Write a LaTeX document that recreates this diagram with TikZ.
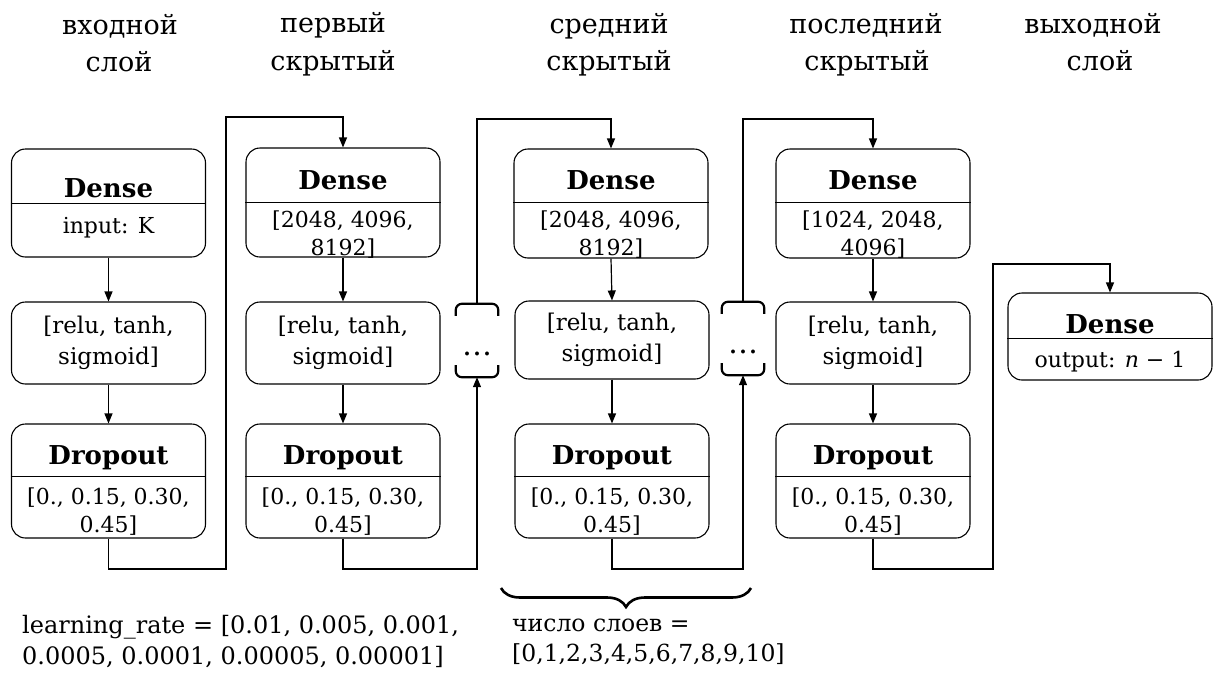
\documentclass[tikz,border=0pt]{standalone}
\usepackage{fontspec}
\setmainfont{DejaVu Serif}
\usetikzlibrary{arrows.meta,decorations.pathreplacing,calc}
\begin{document}
\begin{tikzpicture}[x=1pt,y=-1pt,
  box/.style={draw, rounded corners=14pt, line width=1.1pt, inner sep=0pt, minimum width=194pt},
  txt/.style={font=\fontsize{22}{28}\selectfont, align=center, inner sep=0pt},
  rtxt/.style={font=\fontsize{23}{31}\selectfont, align=center},
  ttl/.style={font=\bfseries\fontsize{26}{30}\selectfont, inner sep=0pt, anchor=base},
  hdr/.style={font=\fontsize{27}{37}\selectfont, inner sep=0pt, anchor=base},
  btxt/.style={font=\fontsize{24}{31}\selectfont, align=left, inner sep=0pt, anchor=west},
  ntxt/.style={font=\fontsize{23.5}{30}\selectfont, align=left, inner sep=0pt, anchor=west},
  dtxt/.style={font=\fontsize{30}{30}\selectfont, inner sep=0pt, anchor=base},
  conn/.style={line width=1.2pt, -{Triangle[length=10pt,width=8pt]}},
  wire/.style={line width=1.2pt},
  divl/.style={line width=0.8pt},
  hook/.style={line width=2.2pt, rounded corners=6pt},
  dotbox/.style={minimum width=42pt, minimum height=73pt, inner sep=0pt},
]
\useasboundingbox (0,0) rectangle (1221,675);

% headers
\node[hdr] (h1a) at (120,34) {входной};
\node[hdr] (h1b) at (119,71) {слой};
\node[hdr] (h2a) at (333,32) {первый};
\node[hdr] (h2b) at (333,70) {скрытый};
\node[hdr] (h3a) at (609,33) {средний};
\node[hdr] (h3b) at (609,70) {скрытый};
\node[hdr] (h4a) at (866,33) {последний};
\node[hdr] (h4b) at (867,70) {скрытый};
\node[hdr] (h5a) at (1093,33) {выходной};
\node[hdr] (h5b) at (1100,70) {слой};

% column 1
\node[box, minimum height=108pt] (d1) at (108.5,203) {};
\draw[divl] (d1.west |- 0,203) -- (d1.east |- 0,203);
\node[ttl] (d1t) at (108.5,197) {Dense};
\node[txt, anchor=base] (d1c) at (108.5,233) {input: K};
\node[box, rtxt, minimum height=82pt] (r1) at (108.5,343) {[relu, tanh,\\sigmoid]};
\node[box, minimum height=114pt] (p1) at (108.5,481) {};
\draw[divl] (p1.west |- 0,476) -- (p1.east |- 0,476);
\node[ttl] (p1t) at (108.5,464) {Dropout};
\node[txt] (p1c) at (108.5,512) {[0., 0.15, 0.30,\\0.45]};

% column 2
\node[box, minimum height=109pt] (d2) at (343,202.5) {};
\draw[divl] (d2.west |- 0,202) -- (d2.east |- 0,202);
\node[ttl] (d2t) at (343,189) {Dense};
\node[txt] (d2c) at (343,235) {[2048, 4096,\\8192]};
\node[box, rtxt, minimum height=82pt] (r2) at (343,343) {[relu, tanh,\\sigmoid]};
\node[box, minimum height=114pt] (p2) at (343,481) {};
\draw[divl] (p2.west |- 0,476) -- (p2.east |- 0,476);
\node[ttl] (p2t) at (343,464) {Dropout};
\node[txt] (p2c) at (343,512) {[0., 0.15, 0.30,\\0.45]};

% column 3
\node[box, minimum height=109pt] (d3) at (611,203.5) {};
\draw[divl] (d3.west |- 0,202) -- (d3.east |- 0,202);
\node[ttl] (d3t) at (611,189) {Dense};
\node[txt] (d3c) at (611,235) {[2048, 4096,\\8192]};
\node[box, rtxt, minimum height=78pt] (r3) at (612,340) {[relu, tanh,\\sigmoid]};
\node[box, minimum height=114pt] (p3) at (612,481) {};
\draw[divl] (p3.west |- 0,476) -- (p3.east |- 0,476);
\node[ttl] (p3t) at (612,464) {Dropout};
\node[txt] (p3c) at (612,512) {[0., 0.15, 0.30,\\0.45]};

% column 4
\node[box, minimum height=109pt] (d4) at (873,203.5) {};
\draw[divl] (d4.west |- 0,202) -- (d4.east |- 0,202);
\node[ttl] (d4t) at (873,189) {Dense};
\node[txt] (d4c) at (873,235) {[1024, 2048,\\4096]};
\node[box, rtxt, minimum height=82pt] (r4) at (873,343) {[relu, tanh,\\sigmoid]};
\node[box, minimum height=114pt] (p4) at (873,481) {};
\draw[divl] (p4.west |- 0,476) -- (p4.east |- 0,476);
\node[ttl] (p4t) at (873,464) {Dropout};
\node[txt] (p4c) at (873,512) {[0., 0.15, 0.30,\\0.45]};

% column 5
\node[box, minimum width=204pt, minimum height=87pt] (d5) at (1110,336.5) {};
\draw[divl] (d5.west |- 0,338) -- (d5.east |- 0,338);
\node[ttl] (d5t) at (1110,333) {Dense};
\node[txt, anchor=base] (d5c) at (1110,367) {output: \textit{n} − 1};

% dots placeholders
\node[dotbox] (k1) at (477,340.5) {};
\node[dtxt] (k1t) at (477,355) {…};
\node[dotbox] (k2) at (743,338.5) {};
\node[dtxt] (k2t) at (743,353) {…};
\foreach \k in {k1,k2} {
  \draw[hook] ($(\k.north west)+(0,12)$) -- (\k.north west) -- (\k.north east) -- ($(\k.north east)+(0,12)$);
  \draw[hook] ($(\k.south west)+(0,-12)$) -- (\k.south west) -- (\k.south east) -- ($(\k.south east)+(0,-12)$);
}

% vertical arrows inside columns
\foreach \c in {1,2,3,4} {
  \draw[conn] (d\c.south) -- (r\c.north);
  \draw[conn] (r\c.south) -- (p\c.north);
}

% routing coordinates
\coordinate (a1) at (226,569);
\coordinate (b1) at (226,117);
\coordinate (a2) at (477,569);
\coordinate (b2) at (477,119);
\coordinate (a3) at (743,569);
\coordinate (b3) at (743,119);
\coordinate (a4) at (993,569);
\coordinate (b4) at (993,264);

\draw[conn] (p1.south) |- (a1) -- (b1) -| (d2.north);
\draw[conn] (p2.south) |- (a2) -- (k1.south);
\draw[conn] (k1.north) -- (b2) -| (d3.north);
\draw[conn] (p3.south) |- (a3) -- (k2.south);
\draw[conn] (k2.north) -- (b3) -| (d4.north);
\draw[conn] (p4.south) |- (a4) -- (b4) -| (d5.north);

% brace and bottom labels
\coordinate (brl) at (501,588);
\coordinate (brr) at (751,588);
\draw[decorate, decoration={brace, mirror, amplitude=19pt}, line width=2.6pt] (brl) -- (brr);
\node[btxt] (lr) at (22,642) {learning\_rate = [0.01, 0.005, 0.001,\\0.0005, 0.0001, 0.00005, 0.00001]};
\node[ntxt] (nl) at (512,642) {число слоев =\\{}[0,1,2,3,4,5,6,7,8,9,10]};
\end{tikzpicture}
\end{document}
